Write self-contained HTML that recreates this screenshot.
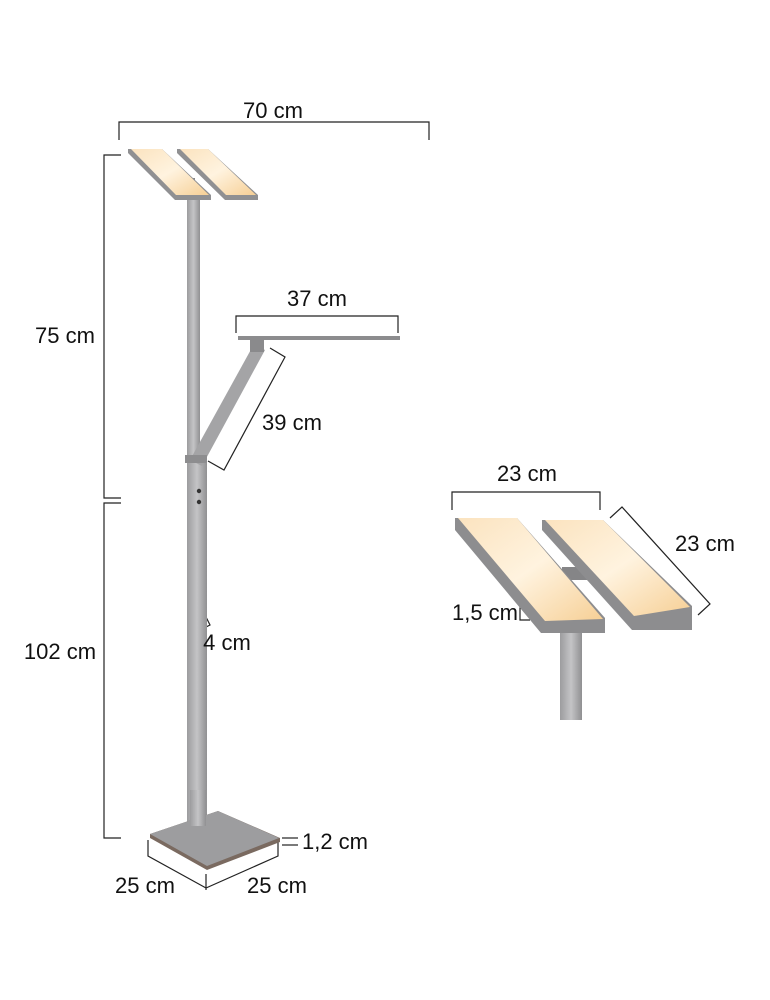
<!DOCTYPE html>
<html><head><meta charset="utf-8"><style>
html,body{margin:0;padding:0;background:#fff}
svg{display:block}
text{font-family:"Liberation Sans",sans-serif;font-size:22px;fill:#111}
</style></head><body>
<svg width="770" height="1000" viewBox="0 0 770 1000" xmlns="http://www.w3.org/2000/svg">
<defs>
<linearGradient id="pg" x1="0" y1="0" x2="1" y2="1">
<stop offset="0" stop-color="#fbe3bf"/><stop offset="0.5" stop-color="#fff3df"/><stop offset="1" stop-color="#f6cf95"/>
</linearGradient>
<linearGradient id="pole" x1="0" x2="1">
<stop offset="0" stop-color="#9c9c9e"/><stop offset="0.5" stop-color="#c4c4c6"/><stop offset="1" stop-color="#909092"/>
</linearGradient>
</defs>
<g fill="none" stroke="#222" stroke-width="1.2">
<polyline points="119,140 119,122 429,122 429,140"/>
<polyline points="121,155 104,155 104,498 121,498"/>
<polyline points="121,503 104,503 104,838 121,838"/>
<polyline points="236,333 236,316 398,316 398,333"/>
<polyline points="270,348 285,357 224,470 208,461"/>
<polyline points="189,623 196,632 210,625 206,617"/>
<polyline points="148,840 148,856 206,888 278,856 278,842"/>
<line x1="206" y1="874" x2="206" y2="890"/>
<line x1="282" y1="838" x2="298" y2="838"/><line x1="282" y1="845" x2="298" y2="845"/>
<polyline points="452,510 452,492 600,492 600,510"/>
<polyline points="610,518 622,507 710,604 698,615"/>
<polyline points="537,608 520,608 520,620 530,620"/>
</g>
<rect x="187" y="200" width="13" height="260" fill="url(#pole)"/>
<rect x="187" y="460" width="20" height="370" fill="url(#pole)"/>
<circle cx="199" cy="491" r="2.2" fill="#333"/><circle cx="199" cy="502" r="2.2" fill="#333"/>
<polygon points="190,460 202,466 265,350 254,344" fill="#a4a4a6"/>
<rect x="250" y="340" width="14" height="12" fill="#8a8a8c"/>
<rect x="185" y="455" width="22" height="8" fill="#8d8d8f"/>
<polygon points="238,336 400,336 400,340 238,340" fill="#8c8c8e"/>
<rect x="183" y="178" width="12" height="8" fill="#888"/>
<polygon points="128,149 162,149 211,195 211,200 175,200 128,153" fill="#909092"/>
<polygon points="131,149 162,149 209,195 176,195" fill="url(#pg)"/>
<polygon points="177,149 208,149 258,195 258,200 225,200 177,153" fill="#909092"/>
<polygon points="180,149 208,149 256,195 226,195" fill="url(#pg)"/>
<polygon points="150,834 218,811 280,838 280,842 207,870 150,838" fill="#7a6a60"/>
<polygon points="150,834 218,811 279,838 207,866" fill="#9d9d9f"/>
<rect x="190" y="790" width="16" height="36" fill="url(#pole)"/>
<rect x="560" y="628" width="22" height="92" fill="url(#pole)"/>
<rect x="562" y="567" width="27" height="13" fill="#858587"/>
<polygon points="455,518 517,518 605,618 605,633 541,633 455,530" fill="#8d8d8f"/>
<polygon points="458,518 517,518 603,619 545,621" fill="url(#pg)"/>
<polygon points="542,520 603,520 692,606 692,630 632,630 542,530" fill="#8d8d8f"/>
<polygon points="545,520 603,520 690,607 634,616" fill="url(#pg)"/>
<text x="273" y="118" text-anchor="middle">70 cm</text>
<text x="317" y="306" text-anchor="middle">37 cm</text>
<text x="292" y="430" text-anchor="middle">39 cm</text>
<text x="65" y="343" text-anchor="middle">75 cm</text>
<text x="60" y="659" text-anchor="middle">102 cm</text>
<text x="227" y="650" text-anchor="middle">4 cm</text>
<text x="335" y="849" text-anchor="middle">1,2 cm</text>
<text x="145" y="893" text-anchor="middle">25 cm</text>
<text x="277" y="893" text-anchor="middle">25 cm</text>
<text x="527" y="481" text-anchor="middle">23 cm</text>
<text x="705" y="551" text-anchor="middle">23 cm</text>
<text x="485" y="620" text-anchor="middle">1,5 cm</text>
</svg>
</body></html>
